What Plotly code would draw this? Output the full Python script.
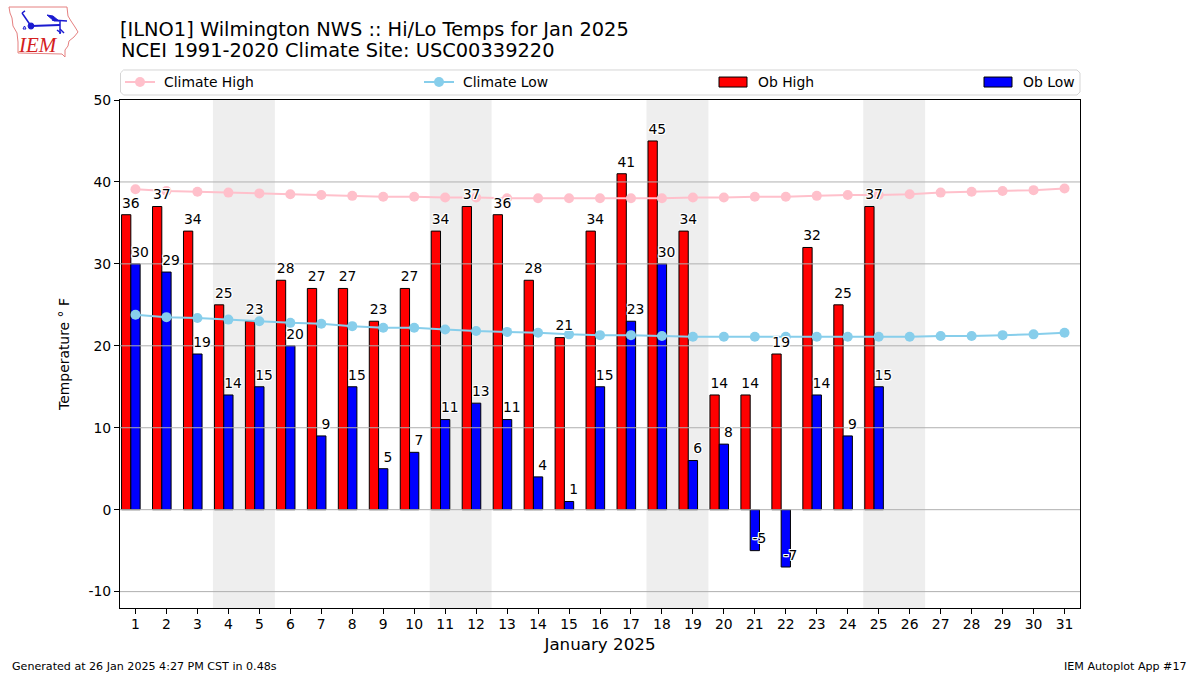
import plotly.graph_objects as go

days = list(range(1, 32))
ob_days = list(range(1, 26))
ob_high = [36,37,34,25,23,28,27,27,23,27,34,37,36,28,21,34,41,45,34,14,14,19,32,25,37]
ob_low = [30,29,19,14,15,20,9,15,5,7,11,13,11,4,1,15,23,30,6,8,-5,-7,14,9,15]
climate_high = [39.1,38.9,38.8,38.7,38.6,38.5,38.4,38.3,38.2,38.2,38.1,38.1,38.0,38.0,38.0,38.0,38.0,38.0,38.1,38.1,38.2,38.2,38.3,38.4,38.4,38.5,38.7,38.8,38.9,39.0,39.2]
climate_low = [23.8,23.5,23.4,23.2,23.0,22.8,22.7,22.4,22.2,22.2,22.0,21.8,21.7,21.6,21.4,21.3,21.3,21.2,21.1,21.1,21.1,21.1,21.1,21.1,21.1,21.1,21.2,21.2,21.3,21.4,21.6]
weekend_starts = [4, 11, 18, 25]
y_ticks = [-10, 0, 10, 20, 30, 40, 50]

FONT = "DejaVu Sans"
W, H = 1200, 675
L, R, T, B = 120, 1080, 100, 608
LABEL_GAP = 0.45
OUTLINE = "1px 0 0 #fff, -1px 0 0 #fff, 0 1px 0 #fff, 0 -1px 0 #fff, 1px 1px 0 #fff, -1px -1px 0 #fff, 1px -1px 0 #fff, -1px 1px 0 #fff"

def px(x):
    return (x - L) / (R - L)
def py(y):
    return 1 - (y - T) / (B - T)
def poly(points, close=False):
    # logo and legend-frame geometry, in pixel positions
    d = "M" + " L".join(f"{px(x):.5f},{py(y):.5f}" for x, y in points)
    return d + (" Z" if close else "")

fig = go.Figure()
fig.add_bar(x=ob_days, y=ob_high, width=0.3, offset=-0.45, name="Ob High", legend="legend3",
            marker=dict(color="#ff0000", line=dict(color="black", width=1)))
fig.add_bar(x=ob_days, y=ob_low, width=0.3, offset=-0.15, name="Ob Low", legend="legend4",
            marker=dict(color="#0000ff", line=dict(color="black", width=1)))

# grid sits above the bars in the reference
gx, gy = [], []
for t in y_ticks[:-1]:
    gx += [0.5, 31.5, None]
    gy += [t, t, None]
fig.add_scatter(x=gx, y=gy, mode="lines", line=dict(color="#b0b0b0", width=1),
                showlegend=False, hoverinfo="skip")

fig.add_scatter(x=days, y=climate_high, mode="lines+markers", name="Climate High", legend="legend",
                line=dict(color="#ffc0cb", width=2), marker=dict(color="#ffc0cb", size=10))
fig.add_scatter(x=days, y=climate_low, mode="lines+markers", name="Climate Low", legend="legend2",
                line=dict(color="#87ceeb", width=2), marker=dict(color="#87ceeb", size=10))

fig.add_scatter(x=[d - 0.15 for d in ob_days], y=[v + LABEL_GAP for v in ob_high],
                text=[str(v) for v in ob_high], mode="text", textposition="top center",
                textfont=dict(family=FONT, size=13.9, color="black", shadow=OUTLINE),
                showlegend=False, hoverinfo="skip")
fig.add_scatter(x=[d + 0.15 for d in ob_days], y=[v + LABEL_GAP for v in ob_low],
                text=[str(v) for v in ob_low], mode="text", textposition="top center",
                textfont=dict(family=FONT, size=13.9, color="black", shadow=OUTLINE),
                showlegend=False, hoverinfo="skip")

shapes = [dict(type="rect", xref="x", yref="paper", x0=d - 0.5, x1=d + 1.5, y0=0, y1=1,
               fillcolor="#eeeeee", line_width=0, layer="below") for d in weekend_starts]

# rounded legend frame
lx0, lx1, ly0, ly1, r = 120.5, 1080, 70, 95, 3
frame = [(lx0 + r, ly0), (lx1 - r, ly0), (lx1, ly0 + r), (lx1, ly1 - r), (lx1 - r, ly1),
         (lx0 + r, ly1), (lx0, ly1 - r), (lx0, ly0 + r)]
shapes.append(dict(type="path", xref="paper", yref="paper", path=poly(frame, True),
                   line=dict(color="#d5d5d5", width=1), fillcolor="rgba(0,0,0,0)"))

# IEM logo: state outline and station-plot glyph
iowa = [(9,7),(67,7),(68,16),(71,21),(75,27),(78,32),(74,37),(69,41),(68,46),(65,50),(65,57),(62,54),(18,53),(18,42),(17,33),(13,26),(12,18),(10,13)]
shapes.append(dict(type="path", xref="paper", yref="paper", path=poly(iowa, True),
                   line=dict(color="#e58080", width=1), fillcolor="rgba(0,0,0,0)"))
blue_lines = [
    ([(31,26),(60,25)], 2), ([(31,26),(22,13)], 1.5), ([(22,13),(25,11)], 1.5),
    ([(52,20),(67,21)], 1.5), ([(60,21),(60,34)], 1.5), ([(60,29),(64,33)], 1.5), ([(57,30),(61,33)], 1.5),
]
for pts, w in blue_lines:
    shapes.append(dict(type="path", xref="paper", yref="paper", path=poly(pts),
                       line=dict(color="#1a1ad0", width=w)))
shapes.append(dict(type="path", xref="paper", yref="paper", path=poly([(47,15),(53,16),(59,21),(54,21)], True),
                   line=dict(color="#1a1ad0", width=1), fillcolor="#1a1ad0"))
shapes.append(dict(type="path", xref="paper", yref="paper",
                   path=poly([(28,26),(29,23.5),(31,23),(33,23.5),(34,26),(33,28.5),(31,29),(29,28.5)], True),
                   line=dict(color="#1a1ad0", width=1), fillcolor="#1a1ad0"))
shapes.append(dict(type="path", xref="paper", yref="paper", path=poly([(23,29),(24.5,26),(26,29)], True),
                   line=dict(color="#1a1ad0", width=1), fillcolor="rgba(0,0,0,0)"))

def ann(text, x, y, size, xanchor="left", yanchor="middle"):
    return dict(text=text, x=px(x), y=py(y), xref="paper", yref="paper", showarrow=False,
                xanchor=xanchor, yanchor=yanchor, font=dict(family=FONT, size=size, color="black"),
                borderpad=0)

annotations = [
    ann("NCEI 1991-2020 Climate Site: USC00339220", 120, 51, 19.4),
    ann("Generated at 26 Jan 2025 4:27 PM CST in 0.48s", 11, 666, 11.1),
    ann("IEM Autoplot App #17", 1188, 666, 11.1, xanchor="right"),
    dict(text="<i>IEM</i>", x=px(38), y=py(45), xref="paper", yref="paper", showarrow=False,
         font=dict(family="Liberation Serif", size=21, color="#d42020"), xanchor="center", yanchor="middle"),
]

def legend_at(x):
    return dict(x=px(x), y=py(82.5), xanchor="left", yanchor="middle", orientation="v",
                bgcolor="rgba(0,0,0,0)", borderwidth=0, font=dict(family=FONT, size=13.9, color="black"),
                itemwidth=30)

axis_common = dict(showline=True, linecolor="black", linewidth=1, mirror=True, ticks="outside",
                   ticklen=5, tickwidth=1, tickcolor="black", showgrid=False, zeroline=False,
                   tickfont=dict(family=FONT, size=13.9, color="black"))

fig.update_layout(
    width=W, height=H, autosize=False,
    margin=dict(l=L, r=W - R, t=T, b=H - B),
    paper_bgcolor="white", plot_bgcolor="white",
    barmode="overlay",
    font=dict(family=FONT, color="black"),
    title=dict(text="[ILNO1] Wilmington NWS :: Hi/Lo Temps for Jan 2025", x=120 / W, xanchor="left",
               y=1 - 29 / H, yanchor="middle", font=dict(family=FONT, size=19.4, color="black")),
    xaxis=dict(range=[0.5, 31.5], tickmode="array", tickvals=days, ticktext=[str(d) for d in days],
               ticklabelstandoff=-2,
               title=dict(text="January 2025", font=dict(family=FONT, size=16.7, color="black"), standoff=7),
               **axis_common),
    yaxis=dict(range=[-12, 50], tickmode="array", tickvals=y_ticks, ticktext=[str(t) for t in y_ticks],
               title=dict(text="Temperature ° F", font=dict(family=FONT, size=13.9, color="black"), standoff=15),
               **axis_common),
    legend=legend_at(120),
    legend2=legend_at(419),
    legend3=legend_at(714),
    legend4=legend_at(979),
    shapes=shapes,
    annotations=annotations,
)

post = """
document.body.style.margin='0';
document.documentElement.style.overflow='hidden';
function tuneLegend(){
  document.querySelectorAll('g.legendpoints path').forEach(function(p){
    if(p.classList.contains('legendbar') || p.getAttribute('class')==='legendundefined'){p.setAttribute('d','M13,5H-15V-5H13Z');}
  });
  document.querySelectorAll('g.traces text').forEach(function(t){t.setAttribute('x','44');});
}
tuneLegend();
var tuneCount=0;
var tuneTimer=setInterval(function(){tuneLegend(); if(++tuneCount>100){clearInterval(tuneTimer);}},50);
"""
fig.write_html("out.html", post_script=post, config=dict(displayModeBar=False))
